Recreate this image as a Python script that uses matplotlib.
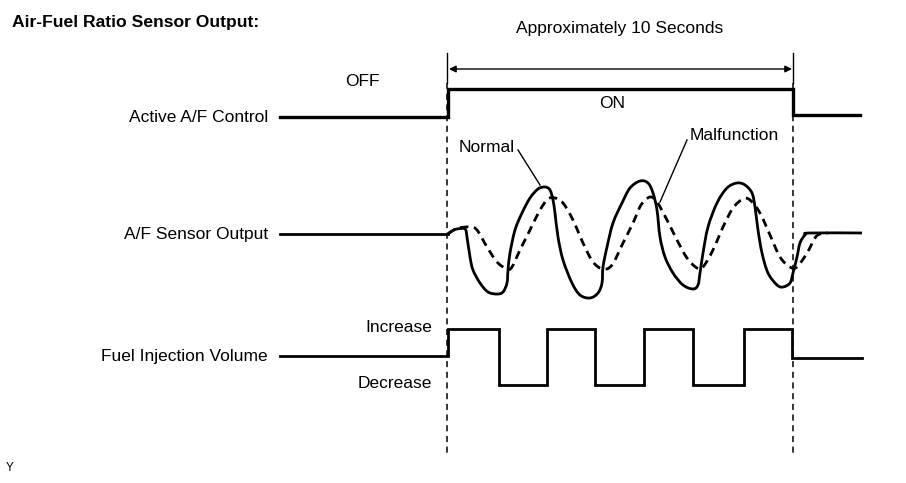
import matplotlib
matplotlib.use("Agg")
import matplotlib.pyplot as plt
from matplotlib.path import Path
from matplotlib.patches import PathPatch

plt.rcParams['font.family'] = ['Liberation Sans', 'DejaVu Sans']

# ---- data (pixel-space diagram coordinates) ----
title = "Air-Fuel Ratio Sensor Output:"
row_labels = ["Active A/F Control", "A/F Sensor Output", "Fuel Injection Volume"]
row_levels = [117, 234, 356]

on_start, on_end = 448, 793
active_high = 89
active_after = 115

# Fuel injection square wave: transition x positions and levels
fuel_edges = [448, 499, 547, 595, 644, 693, 744, 792]
fuel_high, fuel_low, fuel_after = 329, 385, 358

# A/F sensor output traces (x, y)
normal_x = [448, 452, 457, 465, 467, 470, 473, 480, 488, 497, 503, 507, 508, 510, 515, 522, 530, 538, 545,
            550, 553, 555, 558, 563, 572, 580, 590, 598, 602, 603, 607, 613, 622, 630, 640, 648, 653, 657,
            660, 665, 673, 683, 693, 698, 700, 703, 708, 717, 727, 737, 745, 752, 755, 758, 762, 768, 777,
            783, 790, 793, 797, 800, 805, 810, 862]
normal_y = [234, 231, 229, 229, 237, 257, 270, 283, 292, 294, 292, 283, 270, 253, 230, 213, 198, 189, 187,
            190, 200, 213, 237, 260, 283, 295, 298, 293, 283, 267, 247, 223, 203, 188, 181, 183, 193, 210,
            237, 257, 273, 285, 289, 285, 273, 253, 227, 203, 188, 183, 185, 193, 207, 230, 253, 273, 285,
            287, 283, 273, 257, 243, 235, 233, 233]
malf_x = [448, 452, 458, 470, 477, 487, 497, 507, 512, 520, 530, 540, 548, 555, 563, 573, 583, 593, 603,
          612, 623, 633, 641, 650, 657, 667, 677, 687, 697, 703, 713, 723, 733, 743, 750, 760, 770, 780,
          790, 797, 807, 815, 820, 828]
malf_y = [234, 231, 228, 227, 230, 247, 262, 269, 267, 250, 230, 210, 199, 198, 203, 220, 243, 262, 269,
          265, 243, 223, 205, 197, 202, 220, 240, 258, 268, 267, 250, 227, 208, 199, 200, 213, 235, 257,
          267, 267, 253, 238, 234, 233]


def smooth_path(xs, ys):
    """Cubic Bezier path through the given points (Catmull-Rom tangents)."""
    pts = list(zip(xs, ys))
    verts = [pts[0]]
    codes = [Path.MOVETO]
    n = len(pts)
    for i in range(n - 1):
        p0 = pts[i - 1] if i > 0 else pts[i]
        p1 = pts[i]
        p2 = pts[i + 1]
        p3 = pts[i + 2] if i + 2 < n else pts[i + 1]
        c1 = (p1[0] + (p2[0] - p0[0]) / 6.0, p1[1] + (p2[1] - p0[1]) / 6.0)
        c2 = (p2[0] - (p3[0] - p1[0]) / 6.0, p2[1] - (p3[1] - p1[1]) / 6.0)
        verts += [c1, c2, p2]
        codes += [Path.CURVE4] * 3
    return Path(verts, codes)


# ---- figure ----
fig = plt.figure(figsize=(9.06, 4.83), dpi=100)
ax = fig.add_axes([0, 0, 1, 1])
ax.set_xlim(0, 906)
ax.set_ylim(483, 0)
ax.axis('off')

K = 'black'
LW = 2.0
FS = 12.5

# title
ax.text(12, 22, title, fontsize=12.6, fontweight='bold', ha='left', va='center', color=K)

# duration annotation
ax.text(620, 28, "Approximately 10 Seconds", fontsize=FS, ha='center', va='center', color=K)
ax.annotate('', xy=(on_start + 1, 69), xytext=(on_end - 1, 69),
            arrowprops=dict(arrowstyle='<|-|>', color=K, lw=1.0, mutation_scale=10, shrinkA=0, shrinkB=0))
for xv in (on_start - 1, on_end):
    ax.plot([xv, xv], [53, 83], color=K, lw=1.0)
    ax.plot([xv, xv], [83, 456], color=K, lw=1.1, linestyle=(0, (4, 3)))

# row labels
for lab, lv in zip(row_labels, row_levels):
    ax.text(268, lv, lab, fontsize=FS, ha='right', va='center', color=K)

# Active A/F control
ax.plot([280, on_start, on_start, on_end, on_end, 860],
        [117, 117, active_high, active_high, active_after, active_after],
        color=K, lw=2.4, solid_joinstyle='miter')
ax.text(362, 82, "OFF", fontsize=FS, ha='center', va='center', color=K)
ax.text(612, 104, "ON", fontsize=FS, ha='center', va='center', color=K)

# A/F sensor output
ax.plot([280, 448], [234, 234], color=K, lw=LW)
ax.add_patch(PathPatch(smooth_path(normal_x, normal_y), fill=False, edgecolor=K, lw=LW,
                       joinstyle='round', capstyle='butt'))
ax.add_patch(PathPatch(smooth_path(malf_x, malf_y), fill=False, edgecolor=K, lw=LW,
                       linestyle=(0, (3, 2))))
ax.text(487, 147, "Normal", fontsize=FS, ha='center', va='center', color=K)
ax.plot([518, 540], [150, 185], color=K, lw=1.0)
ax.text(734, 136, "Malfunction", fontsize=FS, ha='center', va='center', color=K)
ax.plot([687, 140 + 547], [140, 140], alpha=0)
ax.plot([687, 660], [140, 202], color=K, lw=1.0)

# Fuel injection volume square wave
fx = [280]
fy = [356]
for i, e in enumerate(fuel_edges):
    prev = fy[-1]
    fx += [e, e]
    if i == len(fuel_edges) - 1:
        fy += [prev, fuel_after]
    else:
        fy += [prev, fuel_high if i % 2 == 0 else fuel_low]
fx.append(862)
fy.append(fuel_after)
ax.plot(fx, fy, color=K, lw=LW, solid_joinstyle='miter')
ax.text(432, 327, "Increase", fontsize=FS, ha='right', va='center', color=K)
ax.text(432, 383, "Decrease", fontsize=FS, ha='right', va='center', color=K)

ax.text(10, 468, "Y", fontsize=8.5, ha='center', va='center', color=K)

fig.savefig("out.png", dpi=100)
